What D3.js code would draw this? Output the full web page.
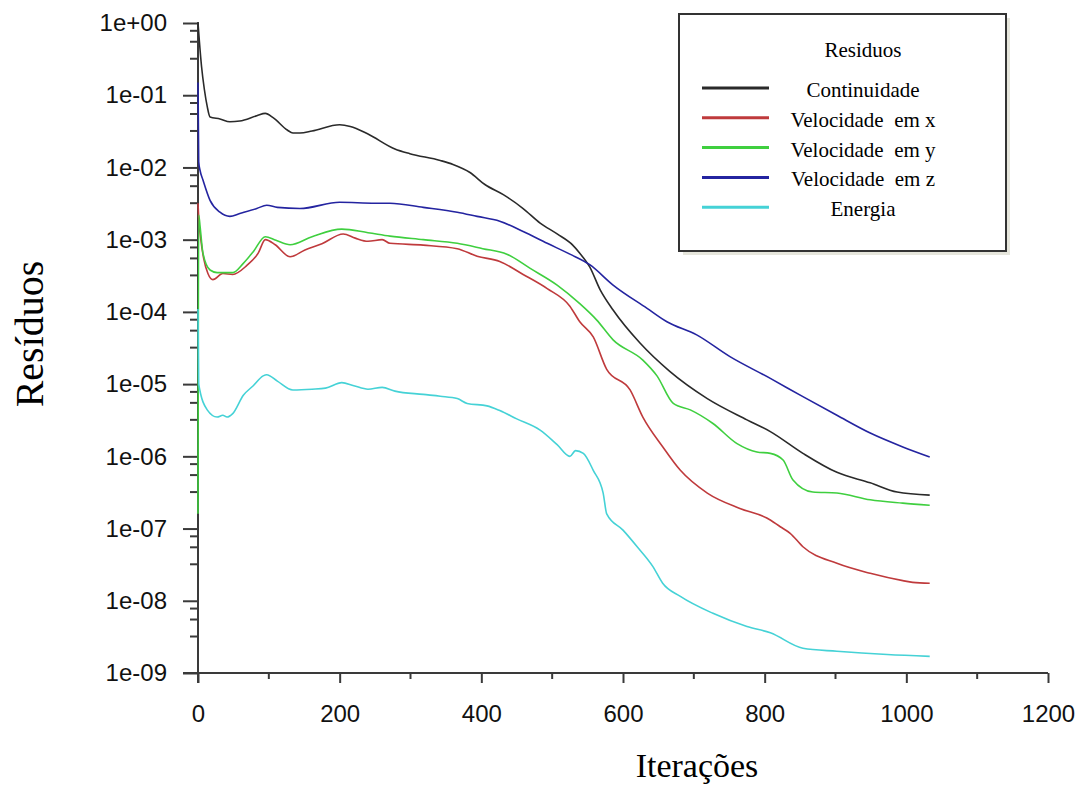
<!DOCTYPE html>
<html>
<head>
<meta charset="utf-8">
<script src="https://cdn.jsdelivr.net/npm/d3@7"></script>
<style>
  body { margin: 0; background: #fff; }
  svg { display: block; }
</style>
</head>
<body>
<div id="container"></div>
<script>
/* CONSTANTS AND GLOBALS */
const width = 1085,
      height = 790,
      margin = {top: 23, left: 198, bottom: 117, right: 37};

/* DATA (iteration, residual) */
const continuidade = [[0,1.0],[2,0.55],[5,0.25],[9,0.12],[13,0.07],[17,5.0e-2],[31,4.7e-2],[45,4.3e-2],[59,4.4e-2],
  [83,5.2e-2],[95,5.6e-2],[106,4.9e-2],[126,3.3e-2],[134,3.0e-2],[144,3.0e-2],[161,3.2e-2],[200,3.9e-2],[215,3.7e-2],
  [240,2.9e-2],[278,1.8e-2],[299,1.55e-2],[342,1.25e-2],[360,1.1e-2],[384,8.5e-3],[405,5.8e-3],[431,4.2e-3],
  [459,2.7e-3],[483,1.7e-3],[507,1.2e-3],[529,8.4e-4],[539,6.5e-4],[553,4.2e-4],[568,2.0e-4],[586,1.06e-4],
  [624,3.7e-5],[666,1.5e-5],[719,6.3e-6],[775,3.2e-6],[808,2.2e-6],[854,1.1e-6],[902,6.0e-7],[949,4.3e-7],
  [987,3.2e-7],[1033,2.9e-7]];

const velX = [[0,3.2e-3],[1,2.0e-3],[4,1.0e-3],[8,5.5e-4],[14,3.4e-4],[21,2.8e-4],[35,3.4e-4],[49,3.3e-4],[69,4.4e-4],
  [85,6.5e-4],[95,1.0e-3],[109,8.5e-4],[130,5.8e-4],[151,7.2e-4],[175,8.8e-4],[205,1.2e-3],[222,1.05e-3],[240,9.5e-4],
  [260,1.0e-3],[271,8.9e-4],[318,8.4e-4],[366,7.5e-4],[394,5.9e-4],[426,5.0e-4],[459,3.3e-4],[493,2.1e-4],
  [525,1.2e-4],[539,7.3e-5],[558,4.5e-5],[577,1.6e-5],[610,8.3e-6],[628,3.5e-6],[656,1.36e-6],[681,6.4e-7],
  [719,3.1e-7],[765,1.9e-7],[803,1.4e-7],[822,1.06e-7],[836,8.6e-8],[854,5.6e-8],[902,3.3e-8],[949,2.4e-8],
  [995,1.9e-8],[1009,1.8e-8],[1033,1.75e-8]];

const velY = [[0,1.6e-7],[1,2.2e-3],[3,1.5e-3],[7,6.5e-4],[17,3.8e-4],[27,3.5e-4],[49,3.5e-4],[64,4.7e-4],[78,6.8e-4],
  [95,1.1e-3],[110,9.8e-4],[130,8.5e-4],[161,1.1e-3],[203,1.4e-3],[240,1.25e-3],[271,1.12e-3],[318,1.0e-3],
  [366,8.9e-4],[402,7.5e-4],[436,6.3e-4],[469,4.0e-4],[507,2.35e-4],[539,1.3e-4],[563,7.7e-5],[586,4.1e-5],
  [628,2.15e-5],[648,1.3e-5],[671,5.4e-6],[695,4.4e-6],[727,2.85e-6],[761,1.5e-6],[789,1.15e-6],[808,1.1e-6],
  [826,8.9e-7],[840,4.7e-7],[868,3.2e-7],[902,3.1e-7],[949,2.5e-7],[995,2.25e-7],[1033,2.1e-7]];

const velZ = [[0,0.15],[1,1.2e-2],[3,9.0e-3],[7,6.7e-3],[17,3.5e-3],[31,2.4e-3],[45,2.1e-3],[59,2.3e-3],[83,2.7e-3],
  [97,3.0e-3],[112,2.8e-3],[144,2.7e-3],[200,3.3e-3],[250,3.2e-3],[271,3.2e-3],[318,2.8e-3],[366,2.4e-3],
  [394,2.1e-3],[426,1.8e-3],[459,1.3e-3],[493,8.9e-4],[525,6.3e-4],[553,4.5e-4],[586,2.35e-4],[634,1.12e-4],
  [662,7.3e-5],[704,4.8e-5],[751,2.4e-5],[808,1.2e-5],[854,6.7e-6],[902,3.7e-6],[949,2.1e-6],[995,1.35e-6],
  [1033,9.8e-7]];

const energia = [[0,1.1e-4],[1,1.0e-5],[13,4.4e-6],[27,3.5e-6],[35,3.7e-6],[41,3.5e-6],[49,3.9e-6],[64,7.0e-6],
  [78,9.5e-6],[92,1.3e-5],[97,1.35e-5],[112,1.1e-5],[134,8.3e-6],[161,8.5e-6],[180,8.8e-6],[203,1.05e-5],
  [220,9.5e-6],[240,8.5e-6],[260,9.0e-6],[278,8.0e-6],[318,7.2e-6],[342,6.8e-6],[366,6.3e-6],[380,5.4e-6],
  [408,5.0e-6],[426,4.3e-6],[450,3.3e-6],[483,2.3e-6],[507,1.45e-6],[525,1.0e-6],[533,1.2e-6],[544,1.1e-6],
  [558,6.4e-7],[572,3.1e-7],[577,1.6e-7],[600,9.5e-8],[620,5.6e-8],[642,3.0e-8],[656,1.75e-8],[681,1.15e-8],
  [727,6.7e-9],[775,4.4e-9],[808,3.6e-9],[854,2.2e-9],[902,2.0e-9],[973,1.8e-9],[1033,1.7e-9]];

const seriesNames = ["Continuidade", "Velocidade  em x", "Velocidade  em y", "Velocidade  em z", "Energia"];
const seriesColors = ["#2a2a2a", "#bf3a3c", "#3fcf3f", "#2424a0", "#45d2d6"];
const seriesData = [continuidade, velX, velY, velZ, energia];

const yTickValues = [1e0, 1e-1, 1e-2, 1e-3, 1e-4, 1e-5, 1e-6, 1e-7, 1e-8, 1e-9];
const yTickLabels = ["1e+00", "1e-01", "1e-02", "1e-03", "1e-04", "1e-05", "1e-06", "1e-07", "1e-08", "1e-09"];
const yMinorFactors = [0.78, 0.55, 0.32];
const xTickValues = [0, 200, 400, 600, 800, 1000, 1200];
const xMinorValues = [100, 300, 500, 700, 900, 1100];

/* SCALES */
const xScale = d3.scaleLinear()
  .domain([0, 1200])
  .range([margin.left, width - margin.right]);

const yScale = d3.scaleLog()
  .domain([1e-9, 1])
  .range([height - margin.bottom, margin.top]);

/* HTML ELEMENTS */
const svg = d3.select("#container")
  .append("svg")
  .attr("width", width)
  .attr("height", height)
  .style("background-color", "#fff");

const axisColor = "#3a3a3a";
const y0 = height - margin.bottom;

// y axis: major ticks with labels, plus minor ticks
const yAxis = d3.axisLeft(yScale)
  .tickValues(yTickValues)
  .tickFormat((d, i) => yTickLabels[i])
  .tickSize(15)
  .tickPadding(16);

const yG = svg.append("g")
  .attr("transform", `translate(${margin.left},0)`)
  .call(yAxis);

const yMinor = yTickValues.slice(0, -1).flatMap(v => yMinorFactors.map(f => v * f));
yG.selectAll(".minor")
  .data(yMinor)
  .join("line")
  .attr("class", "minor")
  .attr("x1", -8).attr("x2", 0)
  .attr("y1", d => yScale(d)).attr("y2", d => yScale(d));

// x axis
const xAxis = d3.axisBottom(xScale)
  .tickValues(xTickValues)
  .tickFormat(d3.format("d"))
  .tickSize(10)
  .tickPadding(22);

const xG = svg.append("g")
  .attr("transform", `translate(0,${y0})`)
  .call(xAxis);

xG.selectAll(".minor")
  .data(xMinorValues)
  .join("line")
  .attr("class", "minor")
  .attr("x1", d => xScale(d)).attr("x2", d => xScale(d))
  .attr("y1", 0).attr("y2", 6);

[yG, xG].forEach(g => {
  g.select(".domain").remove();
  g.selectAll("line").attr("stroke", axisColor).attr("stroke-width", 2);
  g.selectAll("text")
    .attr("fill", "#111")
    .style("font-family", "'Liberation Sans', Arial, sans-serif")
    .style("font-size", "24px");
});

// axis lines
svg.append("line")
  .attr("x1", margin.left).attr("x2", margin.left)
  .attr("y1", margin.top - 1).attr("y2", y0 + 10)
  .attr("stroke", axisColor).attr("stroke-width", 2);
svg.append("line")
  .attr("x1", margin.left - 15).attr("x2", width - margin.right)
  .attr("y1", y0).attr("y2", y0)
  .attr("stroke", axisColor).attr("stroke-width", 2);

/* LINES */
const line = d3.line()
  .x(d => xScale(d[0]))
  .y(d => yScale(d[1]))
  .curve(d3.curveMonotoneX);

svg.selectAll(".series")
  .data(seriesData)
  .join("path")
  .attr("class", "series")
  .attr("d", d => line(d))
  .attr("fill", "none")
  .attr("stroke", (d, i) => seriesColors[i])
  .attr("stroke-width", 1.6)
  .attr("stroke-linejoin", "round");

/* AXIS TITLES */
svg.append("text")
  .attr("x", 697)
  .attr("y", 777)
  .attr("text-anchor", "middle")
  .style("font-family", "'Liberation Serif', 'Times New Roman', serif")
  .style("font-size", "34px")
  .text("Iterações");

svg.append("text")
  .attr("transform", "translate(43,334) rotate(-90)")
  .attr("text-anchor", "middle")
  .style("font-family", "'Liberation Serif', 'Times New Roman', serif")
  .style("font-size", "40px")
  .text("Resíduos");

/* LEGEND */
const legend = svg.append("g").attr("transform", "translate(679,14)");
legend.append("rect")
  .attr("x", 4).attr("y", 4)
  .attr("width", 327).attr("height", 237)
  .attr("fill", "#e6e6dc");
legend.append("rect")
  .attr("x", 0).attr("y", 0)
  .attr("width", 327).attr("height", 237)
  .attr("fill", "#fff")
  .attr("stroke", "#333").attr("stroke-width", 2);

legend.append("text")
  .attr("x", 184).attr("y", 43)
  .attr("text-anchor", "middle")
  .style("font-family", "'Liberation Serif', 'Times New Roman', serif")
  .style("font-size", "21px")
  .text("Residuos");

const rows = legend.selectAll(".row")
  .data(seriesNames)
  .join("g")
  .attr("class", "row")
  .attr("transform", (d, i) => `translate(0,${74 + i * 29.8})`);

rows.append("line")
  .attr("x1", 23).attr("x2", 90)
  .attr("y1", 0).attr("y2", 0)
  .attr("stroke", (d, i) => seriesColors[i])
  .attr("stroke-width", 3);

rows.append("text")
  .attr("x", 184).attr("y", 9)
  .attr("text-anchor", "middle")
  .attr("xml:space", "preserve")
  .style("white-space", "pre")
  .style("font-family", "'Liberation Serif', 'Times New Roman', serif")
  .style("font-size", "21px")
  .text(d => d);
</script>
</body>
</html>
